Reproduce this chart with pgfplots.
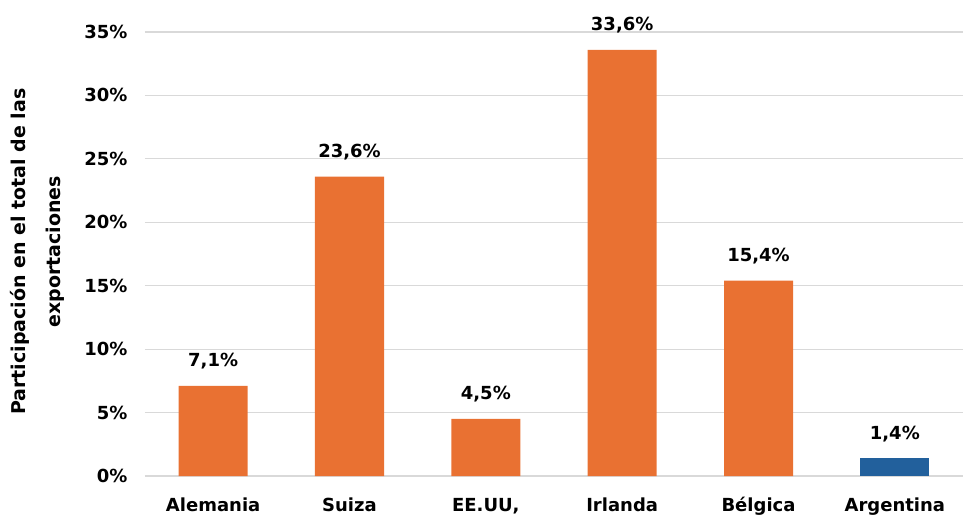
\documentclass[border=0pt]{standalone}
\usepackage{pgfplots}
\pgfplotsset{compat=1.18}
\usepackage{fontspec}
\setmainfont{DejaVu Sans}
\definecolor{barorange}{HTML}{E97132}
\definecolor{barblue}{HTML}{22609C}
\definecolor{gridgray}{HTML}{D9D9D9}
\begin{document}
\begin{tikzpicture}
\begin{axis}[
  at={(0,0)}, anchor=south west,
  scale only axis, width=818bp, height=444bp,
  xmin=-0.5, xmax=5.5, ymin=0, ymax=35,
  xtick={0,1,2,3,4,5},
  xticklabels={Alemania,Suiza,{EE.UU,},Irlanda,Bélgica,Argentina},
  ytick={0,5,10,15,20,25,30,35},
  yticklabel={\pgfmathprintnumber{\tick}\%},
  /pgf/number format/assume math mode=true,
  axis line style={draw=none},
  major tick length=0pt,
  ymajorgrids, major grid style={gridgray, line width=1.2bp},
  tick label style={font=\fontsize{18bp}{22bp}\selectfont\bfseries},
  xticklabel style={anchor=base, yshift=-35bp},
  yticklabel style={xshift=-14bp},
  ylabel={Participación en el total de las\\exportaciones},
  ylabel style={align=center, font=\fontsize{19bp}{35bp}\selectfont\bfseries, at={(axis description cs:-0.131,0.505)}, anchor=center},
  ybar, bar width=69bp,
  bar shift=0pt,
  nodes near coords={\pgfmathprintnumber[use comma,fixed,fixed zerofill,precision=1]{\pgfplotspointmeta}\%},
  nodes near coords style={font=\fontsize{18bp}{22bp}\selectfont\bfseries, anchor=south, yshift=13bp},
  clip=false,
]
\addplot[draw=none, fill=barorange] coordinates {(0,7.1) (1,23.6) (2,4.5) (3,33.6) (4,15.4)};
\addplot[draw=none, fill=barblue] coordinates {(5,1.4)};
\end{axis}
\pgfresetboundingbox
\path[use as bounding box] (-145bp,-39bp) rectangle (818bp,476bp);
\end{tikzpicture}
\end{document}
